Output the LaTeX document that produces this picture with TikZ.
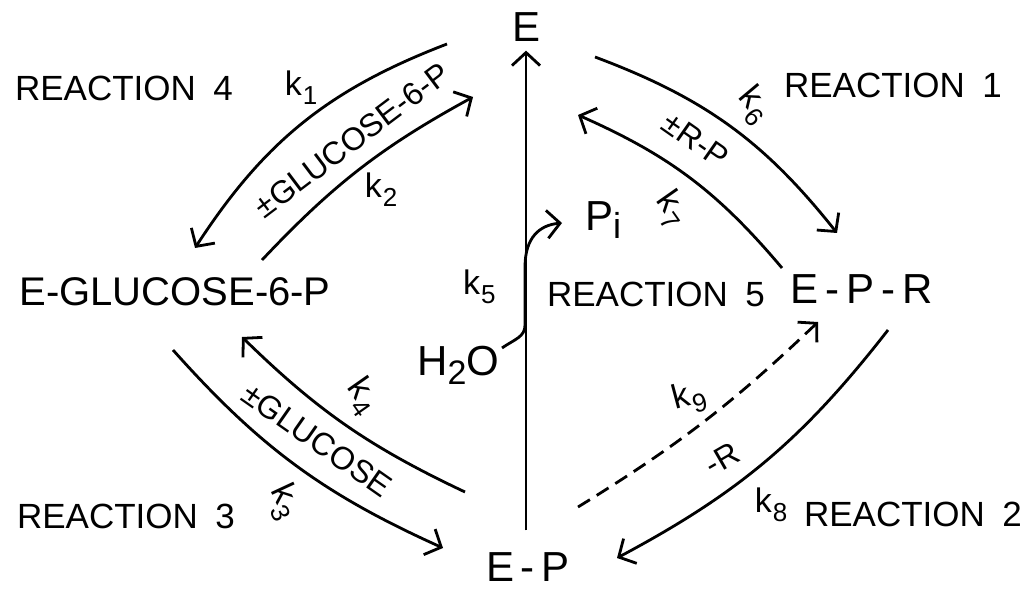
\documentclass[tikz,border=0pt]{standalone}
\usepackage{fontspec}
\setmainfont{Liberation Sans}
\usetikzlibrary{arrows.meta}
\newcommand{\ksub}[1]{k\kern1pt\raisebox{-9pt}{\fontsize{26}{26}\selectfont #1}}
\begin{document}
\begin{tikzpicture}[x=1pt,y=1pt,
  species/.style={inner sep=0pt, font=\fontsize{42}{50}\selectfont},
  rlabel/.style={inner sep=0pt, font=\fontsize{35}{40}\selectfont},
  klabel/.style={inner sep=0pt, font=\fontsize{34}{40}\selectfont},
  along/.style={inner sep=0pt, font=\fontsize{32}{36}\selectfont},
  conn/.style={line width=2.8pt, -{Straight Barb[length=13pt,width=28pt,line width=2.8pt]}}
]
\useasboundingbox (0,0) rectangle (1024,589);
\fill[white] (0,0) rectangle (1024,589);

% species
\node[species] (E)   at (526,562) {E};
\node[species, font=\fontsize{40}{48}\selectfont] (EG)  at (175,297) {E-GLUCOSE-6-P};
\node[species] (EPR) at (862,300) {E\,-\,P\,-\,R};
\node[species] (EP)  at (528,22)  {E\,-\,P};
\node[species, anchor=base west] (Pi)  at (585,358) {P\raisebox{-8pt}{\fontsize{36}{36}\selectfont i}};
\node[species, anchor=base west] (H2O) at (417,213) {H\raisebox{-9pt}{\fontsize{34}{34}\selectfont 2}O};

% reaction labels
\node[rlabel] (R4) at (124,501) {REACTION\,\,\,4};
\node[rlabel] (R1) at (893,504) {REACTION\,\,\,1};
\node[rlabel] (R3) at (126,73)  {REACTION\,\,\,3};
\node[rlabel] (R2) at (913,75)  {REACTION\,\,\,2};
\node[rlabel] (R5) at (656,295) {REACTION\,\,\,5};

% rate constants
\node[klabel] (k1) at (301,501) {\ksub{1}};
\node[klabel] (k2) at (381,399) {\ksub{2}};
\node[klabel, anchor=base west] (k5) at (463,294) {\ksub{5}};
\node[klabel, rotate=-50] (k6) at (754,484) {\ksub{6}};
\node[klabel, rotate=-55] (k7) at (671,380) {\ksub{7}};
\node[klabel, rotate=-55] (k4) at (362,193) {\ksub{4}};
\node[klabel, rotate=-65] (k3) at (284,87)  {\ksub{3}};
\node[klabel, rotate=15]  (k9) at (689,191) {\ksub{9}};
\node[klabel] (k8) at (771,84) {\ksub{8}};

% substances along arcs
\node[along, rotate=37]  (lg6p) at (352,449) {±GLUCOSE-6-P};
\node[along, rotate=-35] (lrp)  at (696,449) {±R-P};
\node[along, rotate=-35] (lg)   at (317,149) {±GLUCOSE};
\node[along, rotate=30]  (lr)   at (722,130) {-R};

% arc end points
\coordinate (a1) at (447,545); \coordinate (a2) at (195,341);
\coordinate (b1) at (262,329); \coordinate (b2) at (473,492);
\coordinate (c1) at (595,532); \coordinate (c2) at (837,356);
\coordinate (d1) at (782,321); \coordinate (d2) at (578,474);
\coordinate (e1) at (173,239); \coordinate (e2) at (443,41);
\coordinate (f1) at (465,97);  \coordinate (f2) at (242,252);
\coordinate (g1) at (888,259); \coordinate (g2) at (617,31);
\coordinate (h1) at (578,82);  \coordinate (h2) at (818,267);
\coordinate (w1) at (502,241); \coordinate (w2) at (562,366);

% reaction 4
\draw[conn] (a1) to[bend right=18] (a2);
\draw[conn] (b1) to[bend left=9] (b2);
% reaction 1
\draw[conn] (c1) to[bend left=15.5] (c2);
\draw[conn] (d1) to[bend right=13] (d2);
% reaction 3
\draw[conn] (e1) to[bend right=12] (e2);
\draw[conn] (f1) to[bend left=9.5] (f2);
% reaction 2
\draw[conn] (g1) to[bend left=12] (g2);
\draw[conn, dash pattern=on 14pt off 8pt] (h1) to[bend right=6] (h2);
% reaction 5
\draw[conn, shorten <=22pt, shorten >=9pt] (E.south |- EP.north) -- (E.south);
\draw[conn] (w1) .. controls (515,250) and (525,252) .. (525,264) -- (525,322) .. controls (525,352) and (540,364) .. (w2);
\end{tikzpicture}
\end{document}
